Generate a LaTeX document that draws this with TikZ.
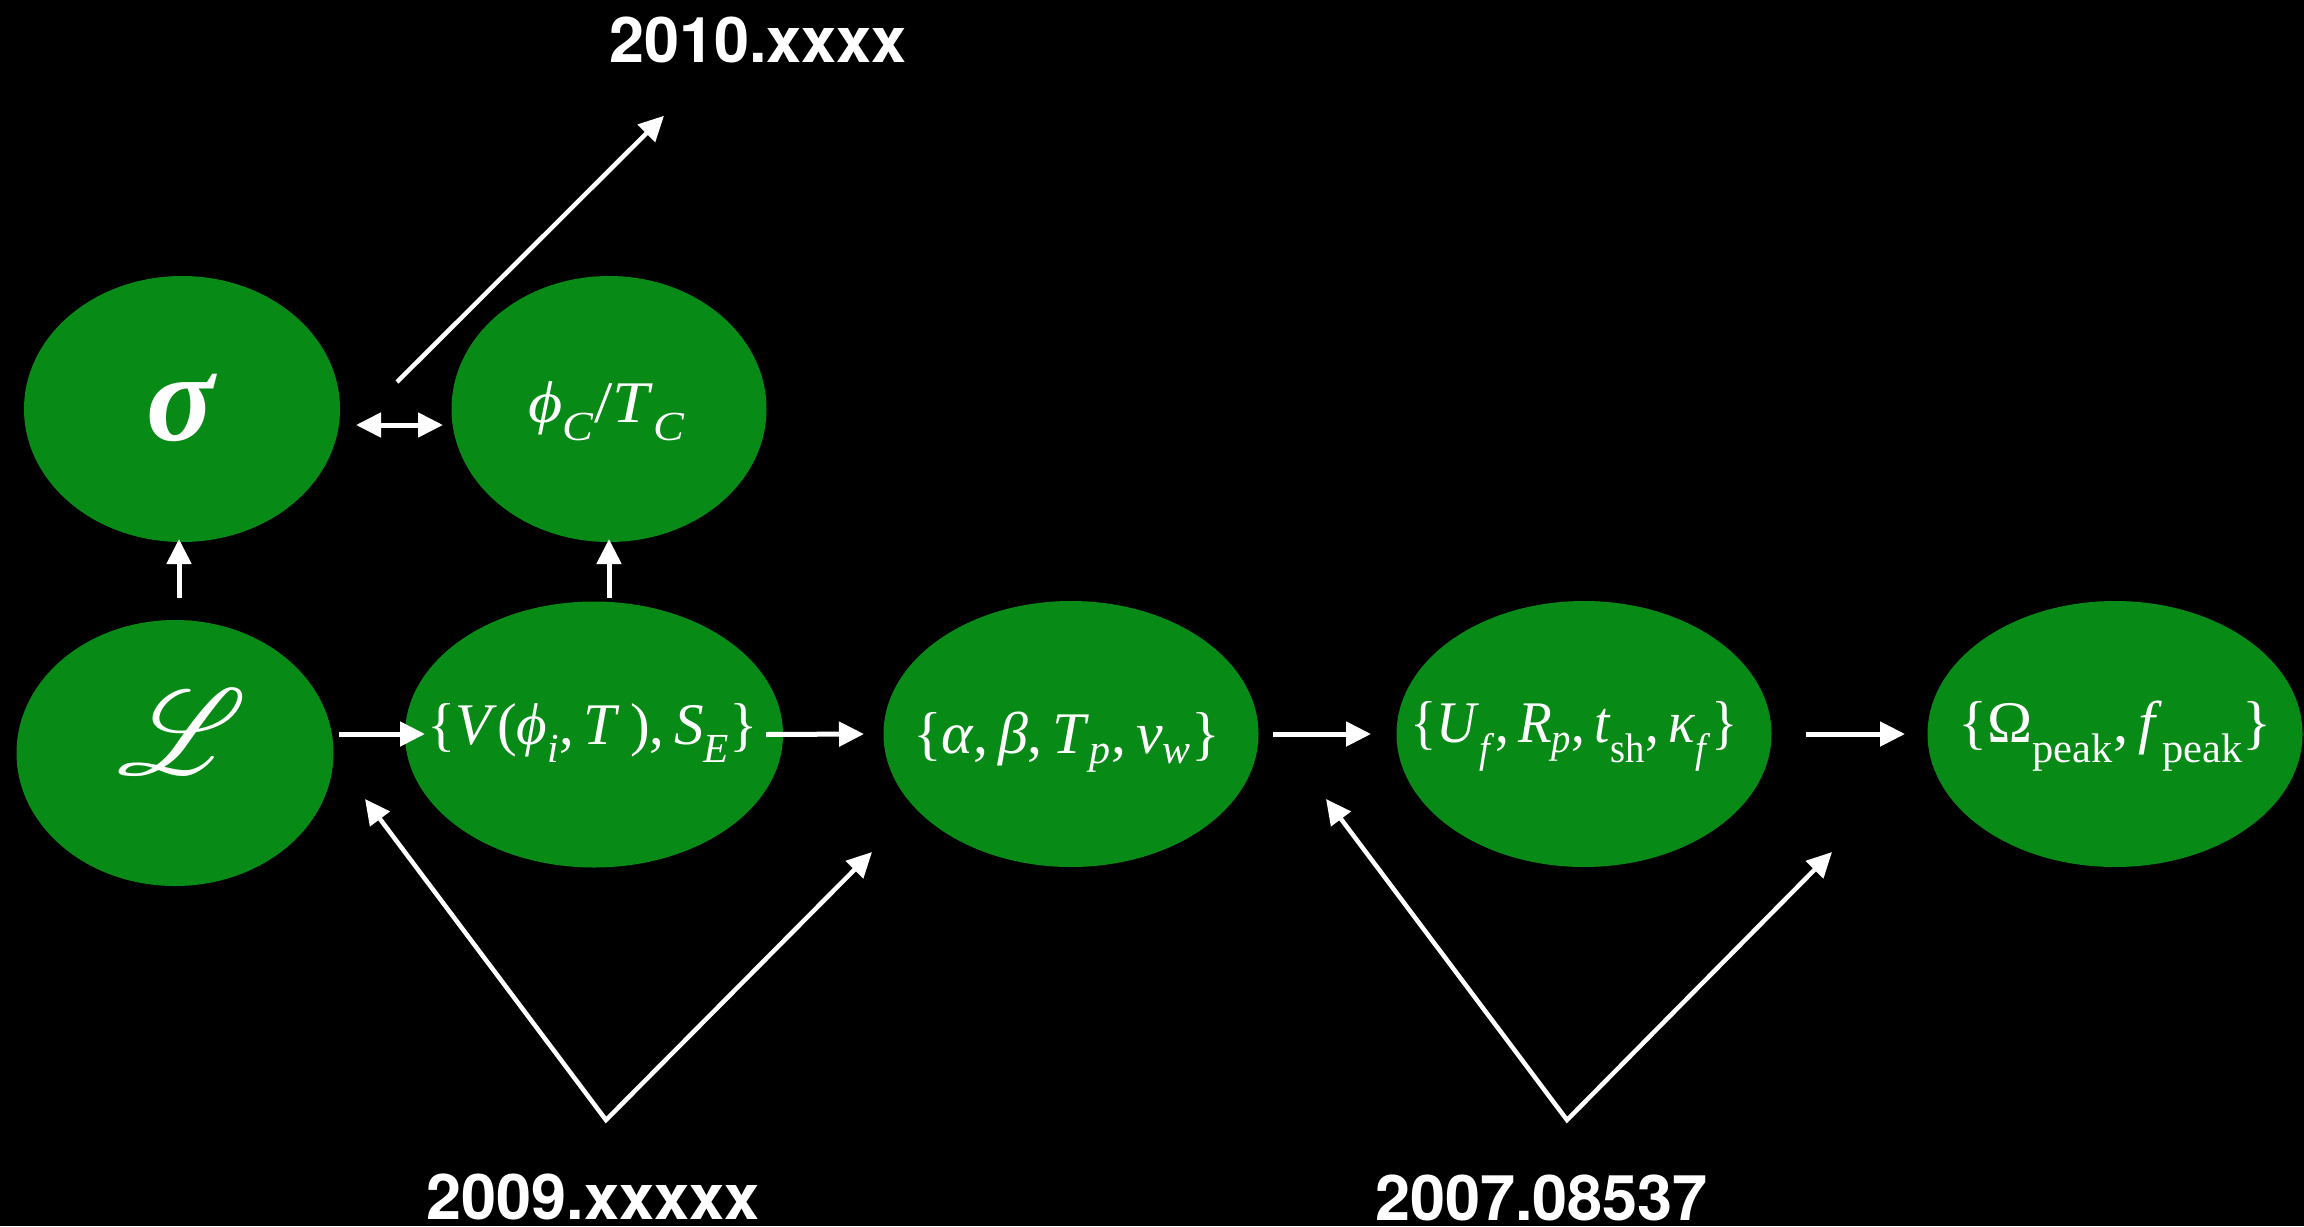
\documentclass[tikz,border=0pt]{standalone}
\usepackage{fontspec}
\usepackage{amsmath}
\IfFileExists{mathrsfs.sty}{\usepackage{mathrsfs}}{\providecommand\mathscr{\mathcal}}
\usepackage{graphicx}
\usetikzlibrary{arrows.meta,shapes.geometric}
\setmainfont{Liberation Serif}
\newfontfamily\labelfont{TeX Gyre Heros}
\definecolor{bubblegreen}{RGB}{8,138,22}
\newcommand\I[1]{\textit{#1}}
\newcommand\sbx[1]{\textsubscript{#1}}
\newcommand\phisym{\textit{\iffontchar\font"03D5 \char"03D5\else$\phi$\fi}}
\newcommand\fitw[2]{\resizebox{#1}{\height}{#2}}
\begin{document}
\begin{tikzpicture}[x=1pt,y=-1pt,
  bubble/.style={ellipse,fill=bubblegreen,inner sep=0pt,outer sep=0pt},
  mtext/.style={text=white,inner sep=0pt,anchor=center},
  ftext/.style={text=white,inner sep=0pt,anchor=base,font=\fontsize{59}{65}\selectfont},
  reflabel/.style={text=white,inner sep=0pt,anchor=base,font=\labelfont\bfseries\fontsize{63}{70}\selectfont},
  arr/.style={white,line width=5pt,-{Triangle[length=25pt,width=24pt]}},
  darr/.style={white,line width=5pt,{Triangle[length=25pt,width=24pt]}-{Triangle[length=25pt,width=24pt]}},
  vline/.style={white,line width=4.5pt,line join=miter,{Triangle[length=25pt,width=24pt]}-{Triangle[length=25pt,width=24pt]}}
]
\fill[black] (0,0) rectangle (2304,1226);
\useasboundingbox (0,0) rectangle (2304,1226);

% bubbles
\node[bubble,minimum width=316pt,minimum height=266pt] (sigma) at (182,409) {};
\node[bubble,minimum width=315pt,minimum height=266pt] (phiC) at (609,409) {};
\node[bubble,minimum width=317pt,minimum height=266pt] (L) at (175,753) {};
\node[bubble,minimum width=378pt,minimum height=266pt] (V) at (594,734.5) {};
\node[bubble,minimum width=375pt,minimum height=266pt] (alpha) at (1071,734) {};
\node[bubble,minimum width=375pt,minimum height=266pt] (U) at (1584,734) {};
\node[bubble,minimum width=375pt,minimum height=266pt] (Omega) at (2115,734) {};

% texts
\node[mtext] (sigmatxt) at (182,408) {\resizebox{71pt}{!}{\textbf{\textit{σ}}}};
\node[mtext] (Ltxt) at (182.5,732.5) {\resizebox{129pt}{!}{$\mathscr{L}$}};
\node[ftext] (phiCtxt) at (606.5,422) {\fitw{157pt}{\phisym\sbx{\I{C}}/\I{T}\sbx{\I{C}}}};
\node[ftext] (Vtxt) at (592.5,744) {\fitw{331pt}{\{\I{V}(\phisym\sbx{\I{i}},\,\I{T}\,),\,\I{S}\sbx{\I{E}}\}}};
\node[ftext] (alphatxt) at (1066.5,753) {\fitw{307pt}{\{\I{α},\,\I{β},\,\I{T}\sbx{\I{p}},\,\I{v}\sbx{\I{w}}\}}};
\node[ftext] (Utxt) at (1574,742) {\fitw{328pt}{\{\I{U}\sbx{\I{f}},\,\I{R}\sbx{\I{p}},\,\I{t}\sbx{sh},\,\I{κ}\sbx{\I{f}}\}}};
\node[ftext] (Omegatxt) at (2115,742) {\fitw{314pt}{\{Ω\sbx{peak},\,\I{f}\sbx{peak}\}}};

% reference labels
\node[reflabel] (t2010) at (758,62) {2010.xxxx};
\node[reflabel] (t2009) at (593,1219) {2009.xxxxx};
\node[reflabel] (t2007) at (1541.5,1220) {2007.08537};

% arrows between bubbles
\draw[arr] ([xshift=4pt,yshift=22pt]L.north) -- ([xshift=-3pt,yshift=3pt]sigma.south);
\draw[arr] ([xshift=15pt,yshift=3.5pt]V.north) -- ([yshift=3pt]phiC.south);
\draw[darr] ([xshift=16pt,yshift=-16pt]sigma.east) -- ([xshift=-8.5pt,yshift=-16pt]phiC.west);
\draw[arr] ([xshift=5.5pt,yshift=19pt]L.east) -- ([xshift=20pt,yshift=0.5pt]V.west);
\draw[arr] ([xshift=-17pt]V.east) -- ([xshift=-19.5pt]alpha.west);
\draw[arr] ([xshift=14.5pt]alpha.east) -- ([xshift=-25.5pt]U.west);
\draw[arr] ([xshift=34pt]U.east) -- ([xshift=-22.5pt]Omega.west);

% arrow to 2010
\coordinate (s2010) at (397,382);
\draw[white,line width=4.5pt,-{Triangle[length=25pt,width=24pt]}] (s2010) -- ([xshift=-94pt,yshift=-53pt]t2010.south);

% V-shaped arrows
\coordinate (v2009) at (606,1120);
\coordinate (a2009) at (365,799);
\coordinate (b2009) at (872,852);
\draw[vline] (a2009) -- (v2009) -- (b2009);
\coordinate (v2007) at (1567,1120);
\coordinate (a2007) at (1326,799);
\coordinate (b2007) at (1832,852);
\draw[vline] (a2007) -- (v2007) -- (b2007);
\end{tikzpicture}
\end{document}
